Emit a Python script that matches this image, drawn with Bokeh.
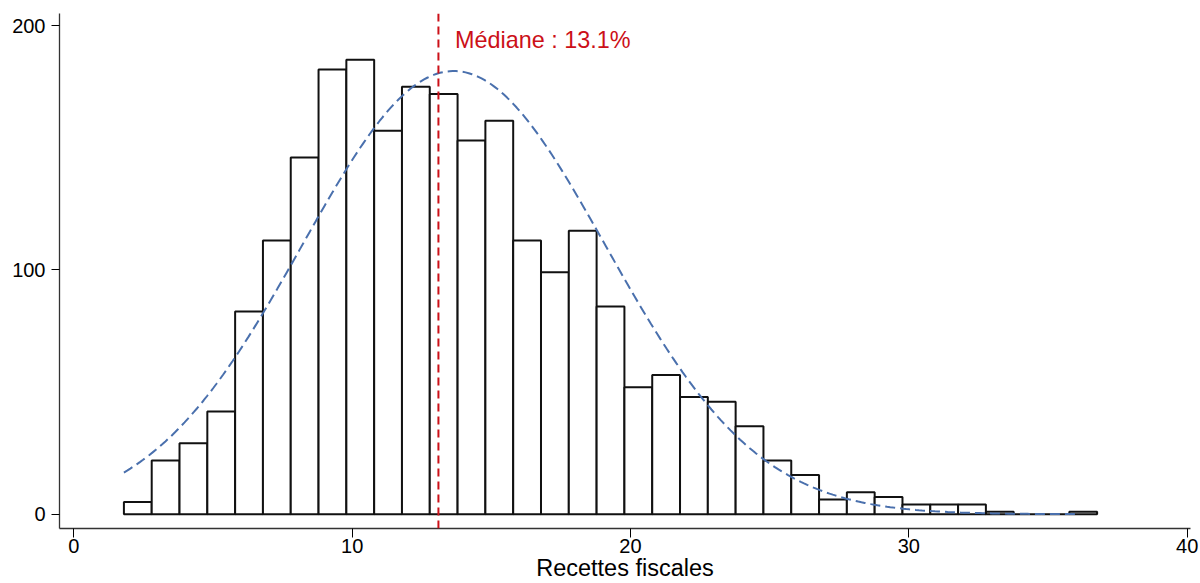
import numpy as np
from bokeh.plotting import figure
from bokeh.models import Span, Label, FixedTicker, Range1d, ColumnDataSource
from bokeh.embed import file_html
from bokeh.resources import INLINE

# ---- data ----
bin_start = 1.8
bin_width = 0.999
counts = [5, 22, 29, 42, 83, 112, 146, 182, 186, 157, 175, 172, 153, 161, 112,
          99, 116, 85, 52, 57, 48, 46, 36, 22, 16, 6, 9, 7, 4, 4, 4, 1, 0, 0, 1]
median_value = 13.1
# fitted normal overlay parameters
curve_mean = 13.65
curve_sd = 5.45
curve_peak = 181.4
curve_xmin = 1.8
curve_xmax = 36.1
x_ticks = [0, 10, 20, 30, 40]
y_ticks = [0, 100, 200]
x_title = "Recettes fiscales"
median_label = "Médiane : {:.1f}%".format(median_value)

FONT = "Liberation Sans"
RED = "#cc1018"
BLUE = "#4a70ad"

lefts = [bin_start + i * bin_width for i in range(len(counts))]
rights = [l + bin_width for l in lefts]
src = ColumnDataSource(dict(left=lefts, right=rights, top=counts, bottom=[0] * len(counts)))

cx = np.linspace(curve_xmin, curve_xmax, 300)
cy = curve_peak * np.exp(-0.5 * ((cx - curve_mean) / curve_sd) ** 2)

p = figure(width=1200, height=583, output_backend="svg", toolbar_location=None,
           x_range=Range1d(-0.514, 40.12), y_range=Range1d(-5.85, 204.95),
           min_border_left=59, min_border_right=10, min_border_top=13, min_border_bottom=55)
p.outline_line_color = None
p.xgrid.visible = False
p.ygrid.visible = False
p.background_fill_color = "white"
p.border_fill_color = "white"

p.quad(left="left", right="right", top="top", bottom="bottom", source=src,
       fill_color="white", line_color="#111111", line_width=2)

p.line(cx, cy, line_color=BLUE, line_width=2, line_dash="10 5")

p.add_layout(Span(location=median_value, dimension="height", line_color=RED,
                  line_width=2, line_dash="8 5"))

p.add_layout(Label(x=median_value, y=194.1, x_offset=16.6, text=median_label,
                   text_color=RED, text_font=FONT, text_font_size="23.4px",
                   text_baseline="alphabetic", text_align="left"))

for ax, ticks, tout in ((p.xaxis[0], x_ticks, 9), (p.yaxis[0], y_ticks, 8)):
    ax.ticker = FixedTicker(ticks=ticks)
    ax.minor_tick_line_color = None
    ax.major_tick_out = tout
    ax.major_tick_in = 0
    ax.major_tick_line_color = "black"
    ax.major_tick_line_width = 1
    ax.axis_line_color = "#333333"
    ax.axis_line_width = 1.3
    ax.major_label_text_font = FONT
    ax.major_label_text_font_size = "20px"
    ax.major_label_text_color = "black"

p.xaxis.axis_label = x_title
p.xaxis.axis_label_text_font = FONT
p.xaxis.axis_label_text_font_size = "23.5px"
p.xaxis.axis_label_text_font_style = "normal"
p.xaxis.axis_label_text_color = "black"
p.xaxis.major_label_standoff = 1
p.xaxis.axis_label_standoff = -1
p.yaxis.major_label_standoff = 6

open("out.html", "w").write(file_html(p, INLINE))
